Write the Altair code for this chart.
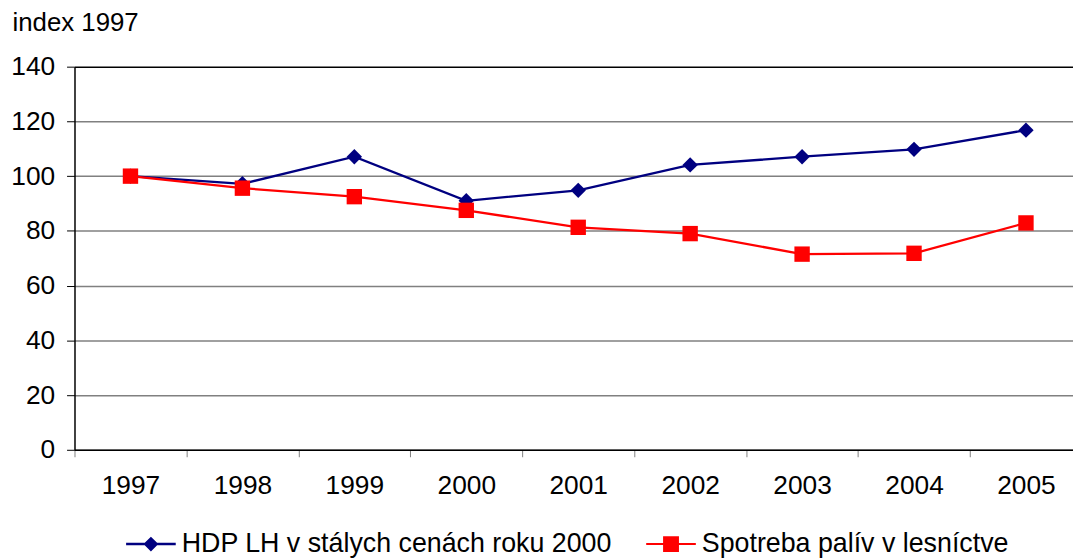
import altair as alt
import pandas as pd

years = [1997, 1998, 1999, 2000, 2001, 2002, 2003, 2004, 2005]
hdp = [100, 97.2, 107.1, 91.0, 94.8, 104.1, 107.1, 109.8, 116.8]
fuel = [100, 95.6, 92.5, 87.5, 81.3, 79.0, 71.5, 71.8, 82.9]
series_names = ["HDP LH v stálych cenách roku 2000", "Spotreba palív v lesníctve"]
series_colors = ["#000080", "#FF0000"]
y_ticks = [0, 20, 40, 60, 80, 100, 120, 140]

df = pd.DataFrame({
    "year": years * 2,
    "value": hdp + fuel,
    "series": [series_names[0]] * len(years) + [series_names[1]] * len(years),
})

FONT = "Liberation Sans"

x_enc = alt.X(
    "year:O",
    bandPosition=0.5,
    scale=alt.Scale(type="band", paddingInner=0, paddingOuter=0, range=[0, 1015]),
    axis=alt.Axis(
        title=None, labelAngle=0, tickBand="extent", labelFontSize=26.5,
        labelColor="black", labelPadding=16, tickSize=7, tickColor="#808080",
        domainColor="black", domainWidth=1.5, grid=False,
    ),
)
y_enc = alt.Y(
    "value:Q",
    scale=alt.Scale(domain=[0, 140], nice=False),
    axis=alt.Axis(
        values=y_ticks, title="index 1997", titleAngle=0, titleAlign="left",
        titleBaseline="alphabetic", titleX=-63, titleY=-36, titleFontSize=26,
        titleFontWeight="normal", titleColor="black", labelFontSize=26.5,
        labelColor="black", labelPadding=12, tickSize=8, tickColor="black",
        domainColor="black", domainWidth=1.5, grid=True,
        gridColor={"condition": {"test": "datum.value === 140", "value": "black"}, "value": "#808080"},
        gridWidth=1.5,
    ),
)

color_scale = alt.Scale(domain=series_names, range=series_colors)

lines = alt.Chart(df).mark_line(strokeWidth=2.3).encode(
    x=x_enc, y=y_enc,
    color=alt.Color("series:N", scale=color_scale, legend=None),
)

points = alt.Chart(df).mark_point(filled=True, opacity=1, size=240).encode(
    x=x_enc, y=y_enc,
    color=alt.Color("series:N", scale=color_scale, legend=None),
    shape=alt.Shape("series:N", scale=alt.Scale(domain=series_names, range=["diamond", "square"]), legend=None),
)

legend_paths = [
    "M-1,-0.05L1,-0.05L1,0.05L-1,0.05Z M-0.3,0L0,-0.3L0.3,0L0,0.3Z",
    "M-1,-0.04L1,-0.04L1,0.04L-1,0.04Z M-0.32,-0.32L0.32,-0.32L0.32,0.32L-0.32,0.32Z",
]
leg = alt.Legend(
    title=None, orient="none", legendX=52, legendY=456, direction="horizontal",
    symbolSize=2500, symbolStrokeWidth=0, labelFontSize=27, labelColor="black",
    labelOffset=6, columnPadding=34, labelLimit=0,
)
legend_layer = alt.Chart(df).transform_filter("false").mark_point(filled=True, opacity=1).encode(
    x=x_enc, y=y_enc,
    color=alt.Color("series:N", scale=color_scale, legend=leg),
    shape=alt.Shape("series:N", scale=alt.Scale(domain=series_names, range=legend_paths), legend=leg),
)

chart = alt.layer(lines, points, legend_layer).resolve_scale(
    color="independent", shape="independent"
).properties(
    width=1006, height=386,
    autosize=alt.AutoSizeParams(type="none"),
    padding={"left": 67, "top": 57, "right": 0, "bottom": 120},
).configure(font=FONT).configure_view(stroke=None)

chart.save("out.html", embed_options={"renderer": "svg", "actions": False})
